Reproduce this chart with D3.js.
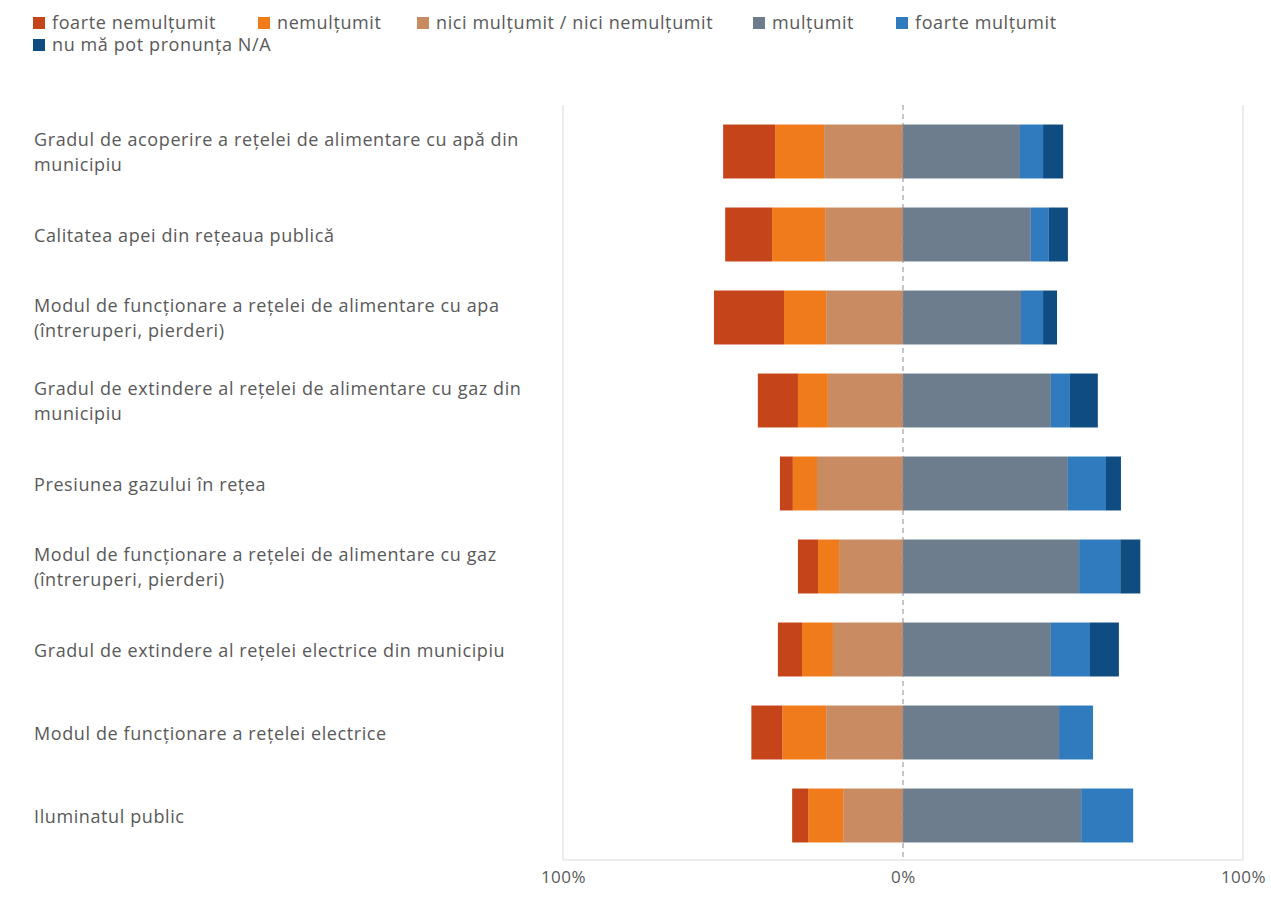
<!DOCTYPE html>
<html>
<head>
<meta charset="utf-8">
<script src="https://cdn.jsdelivr.net/npm/d3@7"></script>
<style>
  html, body { margin: 0; padding: 0; background: #fff; }
  svg { display: block; }
  text { font-family: "Open Sans", "Noto Sans", sans-serif; fill: #595959; }
</style>
</head>
<body>
<svg id="chart" width="1271" height="920"></svg>
<script>
// ---- data ----
const categories = [
  "Gradul de acoperire a rețelei de alimentare cu apă din\nmunicipiu",
  "Calitatea apei din rețeaua publică",
  "Modul de funcționare a rețelei de alimentare cu apa\n(întreruperi, pierderi)",
  "Gradul de extindere al rețelei de alimentare cu gaz din\nmunicipiu",
  "Presiunea gazului în rețea",
  "Modul de funcționare a rețelei de alimentare cu gaz\n(întreruperi, pierderi)",
  "Gradul de extindere al rețelei electrice din municipiu",
  "Modul de funcționare a rețelei electrice",
  "Iluminatul public"
];
const seriesNames = [
  "foarte nemulțumit",
  "nemulțumit",
  "nici mulțumit / nici nemulțumit",
  "mulțumit",
  "foarte mulțumit",
  "nu mă pot pronunța N/A"
];
const foarteNemultumit = [15.3, 13.8, 20.6, 11.8, 3.8, 5.9, 7.1, 9.1, 4.7];
const nemultumit       = [14.4, 15.6, 12.4, 8.8, 7.1, 6.2, 9.1, 12.9, 10.3];
const niciNici         = [23.2, 22.9, 22.6, 22.1, 25.3, 18.8, 20.6, 22.6, 17.6];
const multumit         = [34.4, 37.6, 34.7, 43.5, 48.5, 51.8, 43.5, 45.9, 52.4];
const foarteMultumit   = [6.8, 5.3, 6.5, 5.6, 11.2, 12.1, 11.5, 10.0, 15.3];
const nuMaPotPronunta  = [5.9, 5.6, 4.1, 8.2, 4.4, 5.9, 8.5, 0, 0];
const tickValues = [-100, 0, 100];
const tickLabels = ["100%", "0%", "100%"];

const colors = ["#C5441A", "#F07B1A", "#C98C62", "#6E7D8E", "#2F7BBE", "#0F4C81"];

// ---- layout ----
const svg = d3.select("#chart");
const x = d3.scaleLinear().domain([-100, 100]).range([563, 1243]);
const y = d3.scaleBand().domain(categories).range([110, 857]).paddingInner(0.35).paddingOuter(0.175);

// grid
const g = svg.append("g");
const plotTop = 105, plotBottom = 860;
g.selectAll("line.vgrid").data([-100, 100]).join("line")
  .attr("x1", d => x(d)).attr("x2", d => x(d))
  .attr("y1", plotTop).attr("y2", plotBottom)
  .attr("stroke", "#e6e6e6").attr("stroke-width", 1.5);
g.append("line")
  .attr("x1", x(-100)).attr("x2", x(100))
  .attr("y1", plotBottom).attr("y2", plotBottom)
  .attr("stroke", "#e6e6e6").attr("stroke-width", 1.5);

// bars
const negSeries = [
  {vals: niciNici, color: colors[2]},
  {vals: nemultumit, color: colors[1]},
  {vals: foarteNemultumit, color: colors[0]}
];
const posSeries = [
  {vals: multumit, color: colors[3]},
  {vals: foarteMultumit, color: colors[4]},
  {vals: nuMaPotPronunta, color: colors[5]}
];
const segs = [];
categories.forEach((c, i) => {
  let cum = 0;
  negSeries.forEach(s => {
    const v = s.vals[i];
    segs.push({cat: c, x0: -(cum + v), x1: -cum, color: s.color});
    cum += v;
  });
  cum = 0;
  posSeries.forEach(s => {
    const v = s.vals[i];
    if (v > 0) segs.push({cat: c, x0: cum, x1: cum + v, color: s.color});
    cum += v;
  });
});
svg.append("g").selectAll("rect").data(segs).join("rect")
  .attr("x", d => x(d.x0))
  .attr("width", d => x(d.x1) - x(d.x0))
  .attr("y", d => y(d.cat))
  .attr("height", y.bandwidth())
  .attr("fill", d => d.color);

// zero line (dashed)
svg.append("line")
  .attr("x1", x(0)).attr("x2", x(0))
  .attr("y1", plotTop).attr("y2", plotBottom)
  .attr("stroke", "#8c8c8c").attr("stroke-width", 1)
  .attr("stroke-dasharray", "5,4");

// x axis labels
const xAxis = d3.axisBottom(x).tickValues(tickValues)
  .tickFormat((d, i) => tickLabels[i]).tickSize(0).tickPadding(0);
const ax = svg.append("g").attr("transform", `translate(0, ${plotBottom + 11})`).call(xAxis);
ax.select(".domain").remove();
ax.selectAll("text").attr("font-size", 17).attr("fill", "#7f7f7f")
  .style("letter-spacing", "0.5px")
  .style("font-family", '"Open Sans", sans-serif');

// category labels
const lab = svg.append("g");
categories.forEach(c => {
  const lines = c.split("\n");
  const lh = 25;
  const cy = y(c) + y.bandwidth() / 2 + 1;
  const t = lab.append("text").attr("x", 34).attr("font-size", 18)
    .style("letter-spacing", "0.6px");
  lines.forEach((ln, k) => {
    t.append("tspan").attr("x", 34)
      .attr("y", cy + (k - (lines.length - 1) / 2) * lh)
      .attr("dy", "0.35em").text(ln);
  });
});

// legend
const legendPos = [
  {x: 33, y: 23}, {x: 258, y: 23}, {x: 417, y: 23}, {x: 753, y: 23}, {x: 896, y: 23},
  {x: 33, y: 45}
];
const lg = svg.append("g").selectAll("g").data(seriesNames).join("g")
  .attr("transform", (d, i) => `translate(${legendPos[i].x}, ${legendPos[i].y})`);
lg.append("rect").attr("x", 0).attr("y", -6).attr("width", 12).attr("height", 12)
  .attr("fill", (d, i) => colors[i]);
lg.append("text").attr("x", 19).attr("y", 0).attr("dy", "0.35em")
  .attr("font-size", 18).style("letter-spacing", "0.6px").text(d => d);
</script>
</body>
</html>
